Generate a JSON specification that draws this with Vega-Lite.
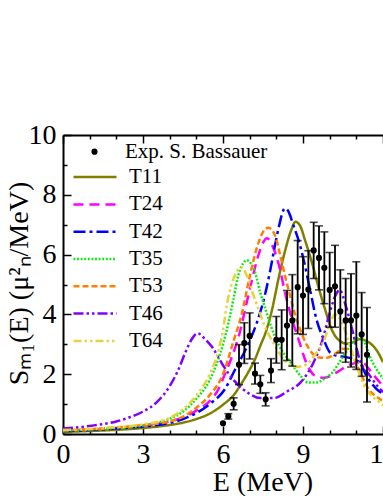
{
  "$schema": "https://vega.github.io/schema/vega-lite/v6.json",
  "width": 320,
  "height": 299,
  "autosize": {"type": "none"},
  "padding": {"left": 63, "top": 135, "right": 0, "bottom": 62},
  "background": "white",
  "config": {
    "view": {"stroke": null},
    "font": "Liberation Serif",
    "axis": {
      "grid": false,
      "domainColor": "black",
      "domainWidth": 2,
      "tickColor": "black",
      "tickWidth": 1.5,
      "labelColor": "black",
      "titleColor": "black",
      "labelFont": "Liberation Serif",
      "titleFont": "Liberation Serif",
      "labelFontSize": 28,
      "titleFontSize": 28,
      "titleFontWeight": "normal"
    },
    "legend": {"labelFont": "Liberation Serif", "labelFontSize": 21, "labelColor": "black"}
  },
  "datasets": {
    "exp": [
      {"E": 6.0, "S": 0.36, "lo": null, "hi": null},
      {"E": 6.2, "S": 0.59, "lo": 0.5, "hi": 0.68},
      {"E": 6.4, "S": 1.01, "lo": 0.81, "hi": 1.21},
      {"E": 6.6, "S": 2.32, "lo": 1.65, "hi": 2.99},
      {"E": 6.8, "S": 3.04, "lo": 2.36, "hi": 3.72},
      {"E": 7.0, "S": 3.28, "lo": 2.51, "hi": 4.05},
      {"E": 7.2, "S": 2.02, "lo": 1.67, "hi": 2.37},
      {"E": 7.4, "S": 1.66, "lo": 1.36, "hi": 1.96},
      {"E": 7.6, "S": 1.16, "lo": 0.94, "hi": 1.38},
      {"E": 7.8, "S": 2.12, "lo": 1.72, "hi": 2.52},
      {"E": 8.0, "S": 3.15, "lo": 2.37, "hi": 3.93},
      {"E": 8.2, "S": 3.15, "lo": 2.15, "hi": 4.15},
      {"E": 8.4, "S": 3.63, "lo": 2.46, "hi": 4.8},
      {"E": 8.6, "S": 3.8, "lo": 2.27, "hi": 5.33},
      {"E": 8.8, "S": 4.91, "lo": 3.35, "hi": 6.47},
      {"E": 9.0, "S": 4.63, "lo": 3.33, "hi": 5.93},
      {"E": 9.2, "S": 4.83, "lo": 3.53, "hi": 6.13},
      {"E": 9.4, "S": 6.14, "lo": 5.2, "hi": 7.08},
      {"E": 9.6, "S": 5.89, "lo": 4.82, "hi": 6.96},
      {"E": 9.8, "S": 5.56, "lo": 4.36, "hi": 6.76},
      {"E": 10.0, "S": 4.82, "lo": 3.57, "hi": 6.07},
      {"E": 10.2, "S": 4.94, "lo": 3.57, "hi": 6.31},
      {"E": 10.4, "S": 4.1, "lo": 2.71, "hi": 5.49},
      {"E": 10.6, "S": 3.8, "lo": 2.4, "hi": 5.2},
      {"E": 10.8, "S": 3.8, "lo": 2.24, "hi": 5.36},
      {"E": 11.0, "S": 3.96, "lo": 2.16, "hi": 5.76},
      {"E": 11.2, "S": 3.33, "lo": 1.93, "hi": 4.73},
      {"E": 11.4, "S": 2.65, "lo": 1.07, "hi": 4.23}
    ],
    "theory": [
      {"series": "T11", "E": 0, "S": 0.07}, {"series": "T11", "E": 1, "S": 0.1}, {"series": "T11", "E": 2, "S": 0.14}, {"series": "T11", "E": 3, "S": 0.2}, {"series": "T11", "E": 4, "S": 0.3}, {"series": "T11", "E": 4.5, "S": 0.38}, {"series": "T11", "E": 5, "S": 0.5}, {"series": "T11", "E": 5.5, "S": 0.68}, {"series": "T11", "E": 6, "S": 0.98}, {"series": "T11", "E": 6.4, "S": 1.3}, {"series": "T11", "E": 6.7, "S": 1.7}, {"series": "T11", "E": 7.0, "S": 2.15}, {"series": "T11", "E": 7.2, "S": 2.5}, {"series": "T11", "E": 7.4, "S": 2.95}, {"series": "T11", "E": 7.6, "S": 3.4}, {"series": "T11", "E": 7.85, "S": 4.2}, {"series": "T11", "E": 8.07, "S": 5.15}, {"series": "T11", "E": 8.32, "S": 6.1}, {"series": "T11", "E": 8.55, "S": 6.8}, {"series": "T11", "E": 8.72, "S": 7.1}, {"series": "T11", "E": 8.9, "S": 6.95}, {"series": "T11", "E": 9.07, "S": 6.5}, {"series": "T11", "E": 9.33, "S": 5.75}, {"series": "T11", "E": 9.57, "S": 4.95}, {"series": "T11", "E": 9.8, "S": 4.25}, {"series": "T11", "E": 10.1, "S": 3.45}, {"series": "T11", "E": 10.4, "S": 3.1}, {"series": "T11", "E": 10.65, "S": 3.02}, {"series": "T11", "E": 10.9, "S": 3.08}, {"series": "T11", "E": 11.1, "S": 3.17}, {"series": "T11", "E": 11.3, "S": 3.14}, {"series": "T11", "E": 11.6, "S": 2.97}, {"series": "T11", "E": 11.8, "S": 2.75}, {"series": "T11", "E": 12, "S": 2.4},
      {"series": "T24", "E": 0, "S": 0.12}, {"series": "T24", "E": 1, "S": 0.15}, {"series": "T24", "E": 2, "S": 0.2}, {"series": "T24", "E": 3, "S": 0.28}, {"series": "T24", "E": 4, "S": 0.42}, {"series": "T24", "E": 4.5, "S": 0.55}, {"series": "T24", "E": 5, "S": 0.78}, {"series": "T24", "E": 5.5, "S": 1.1}, {"series": "T24", "E": 5.8, "S": 1.45}, {"series": "T24", "E": 6.07, "S": 2.0}, {"series": "T24", "E": 6.3, "S": 2.5}, {"series": "T24", "E": 6.6, "S": 3.3}, {"series": "T24", "E": 6.89, "S": 4.4}, {"series": "T24", "E": 7.1, "S": 5.2}, {"series": "T24", "E": 7.3, "S": 5.9}, {"series": "T24", "E": 7.5, "S": 6.4}, {"series": "T24", "E": 7.65, "S": 6.55}, {"series": "T24", "E": 7.85, "S": 6.3}, {"series": "T24", "E": 8.14, "S": 5.5}, {"series": "T24", "E": 8.32, "S": 4.75}, {"series": "T24", "E": 8.6, "S": 3.8}, {"series": "T24", "E": 8.82, "S": 3.2}, {"series": "T24", "E": 9.14, "S": 2.35}, {"series": "T24", "E": 9.45, "S": 1.95}, {"series": "T24", "E": 9.8, "S": 1.88}, {"series": "T24", "E": 10.25, "S": 2.05}, {"series": "T24", "E": 10.7, "S": 2.3}, {"series": "T24", "E": 11.2, "S": 2.4}, {"series": "T24", "E": 11.62, "S": 2.0}, {"series": "T24", "E": 12, "S": 1.6},
      {"series": "T42", "E": 0, "S": 0.1}, {"series": "T42", "E": 1, "S": 0.13}, {"series": "T42", "E": 2, "S": 0.18}, {"series": "T42", "E": 3, "S": 0.25}, {"series": "T42", "E": 4, "S": 0.37}, {"series": "T42", "E": 4.5, "S": 0.5}, {"series": "T42", "E": 5, "S": 0.7}, {"series": "T42", "E": 5.5, "S": 1.0}, {"series": "T42", "E": 6.07, "S": 1.5}, {"series": "T42", "E": 6.45, "S": 2.15}, {"series": "T42", "E": 6.89, "S": 2.9}, {"series": "T42", "E": 7.26, "S": 3.7}, {"series": "T42", "E": 7.57, "S": 4.64}, {"series": "T42", "E": 7.76, "S": 5.42}, {"series": "T42", "E": 7.95, "S": 6.31}, {"series": "T42", "E": 8.1, "S": 6.95}, {"series": "T42", "E": 8.32, "S": 7.55}, {"series": "T42", "E": 8.45, "S": 7.45}, {"series": "T42", "E": 8.64, "S": 6.98}, {"series": "T42", "E": 8.89, "S": 6.31}, {"series": "T42", "E": 9.07, "S": 5.64}, {"series": "T42", "E": 9.26, "S": 4.85}, {"series": "T42", "E": 9.5, "S": 3.85}, {"series": "T42", "E": 9.76, "S": 3.2}, {"series": "T42", "E": 10.0, "S": 2.74}, {"series": "T42", "E": 10.25, "S": 2.62}, {"series": "T42", "E": 10.62, "S": 2.57}, {"series": "T42", "E": 11.12, "S": 2.4}, {"series": "T42", "E": 11.37, "S": 1.96}, {"series": "T42", "E": 11.75, "S": 1.51}, {"series": "T42", "E": 12, "S": 1.34},
      {"series": "T35", "E": 0, "S": 0.12}, {"series": "T35", "E": 1, "S": 0.15}, {"series": "T35", "E": 2, "S": 0.2}, {"series": "T35", "E": 3, "S": 0.28}, {"series": "T35", "E": 4, "S": 0.51}, {"series": "T35", "E": 4.5, "S": 0.75}, {"series": "T35", "E": 5, "S": 1.18}, {"series": "T35", "E": 5.5, "S": 1.8}, {"series": "T35", "E": 6.0, "S": 3.0}, {"series": "T35", "E": 6.2, "S": 3.7}, {"series": "T35", "E": 6.39, "S": 4.5}, {"series": "T35", "E": 6.57, "S": 5.3}, {"series": "T35", "E": 6.75, "S": 5.7}, {"series": "T35", "E": 6.9, "S": 5.81}, {"series": "T35", "E": 7.05, "S": 5.7}, {"series": "T35", "E": 7.2, "S": 5.42}, {"series": "T35", "E": 7.39, "S": 4.75}, {"series": "T35", "E": 7.55, "S": 4.3}, {"series": "T35", "E": 7.8, "S": 3.6}, {"series": "T35", "E": 8.07, "S": 3.02}, {"series": "T35", "E": 8.57, "S": 2.35}, {"series": "T35", "E": 8.95, "S": 1.9}, {"series": "T35", "E": 9.2, "S": 1.72}, {"series": "T35", "E": 9.5, "S": 1.72}, {"series": "T35", "E": 9.8, "S": 1.85}, {"series": "T35", "E": 10.1, "S": 2.05}, {"series": "T35", "E": 10.4, "S": 2.45}, {"series": "T35", "E": 10.7, "S": 2.85}, {"series": "T35", "E": 10.95, "S": 3.15}, {"series": "T35", "E": 11.15, "S": 3.22}, {"series": "T35", "E": 11.35, "S": 3.0}, {"series": "T35", "E": 11.5, "S": 2.6}, {"series": "T35", "E": 11.75, "S": 2.18}, {"series": "T35", "E": 12, "S": 1.85},
      {"series": "T53", "E": 0, "S": 0.12}, {"series": "T53", "E": 1, "S": 0.16}, {"series": "T53", "E": 2, "S": 0.22}, {"series": "T53", "E": 3, "S": 0.3}, {"series": "T53", "E": 4, "S": 0.42}, {"series": "T53", "E": 4.5, "S": 0.58}, {"series": "T53", "E": 5, "S": 0.88}, {"series": "T53", "E": 5.5, "S": 1.3}, {"series": "T53", "E": 6, "S": 2.0}, {"series": "T53", "E": 6.39, "S": 3.1}, {"series": "T53", "E": 6.7, "S": 4.0}, {"series": "T53", "E": 7.01, "S": 5.3}, {"series": "T53", "E": 7.26, "S": 6.2}, {"series": "T53", "E": 7.55, "S": 6.82}, {"series": "T53", "E": 7.7, "S": 6.9}, {"series": "T53", "E": 7.95, "S": 6.65}, {"series": "T53", "E": 8.14, "S": 6.0}, {"series": "T53", "E": 8.32, "S": 5.31}, {"series": "T53", "E": 8.51, "S": 4.64}, {"series": "T53", "E": 8.7, "S": 4.0}, {"series": "T53", "E": 8.89, "S": 3.5}, {"series": "T53", "E": 9.1, "S": 3.05}, {"series": "T53", "E": 9.33, "S": 2.72}, {"series": "T53", "E": 9.6, "S": 2.56}, {"series": "T53", "E": 9.9, "S": 2.55}, {"series": "T53", "E": 10.2, "S": 2.68}, {"series": "T53", "E": 10.5, "S": 2.85}, {"series": "T53", "E": 10.75, "S": 2.8}, {"series": "T53", "E": 11.0, "S": 2.35}, {"series": "T53", "E": 11.25, "S": 1.85}, {"series": "T53", "E": 11.5, "S": 1.45}, {"series": "T53", "E": 11.75, "S": 1.25}, {"series": "T53", "E": 12, "S": 1.1},
      {"series": "T46", "E": 0, "S": 0.18}, {"series": "T46", "E": 1, "S": 0.27}, {"series": "T46", "E": 2, "S": 0.42}, {"series": "T46", "E": 2.5, "S": 0.56}, {"series": "T46", "E": 3, "S": 0.75}, {"series": "T46", "E": 3.5, "S": 1.05}, {"series": "T46", "E": 4, "S": 1.6}, {"series": "T46", "E": 4.3, "S": 2.1}, {"series": "T46", "E": 4.6, "S": 2.75}, {"series": "T46", "E": 4.85, "S": 3.2}, {"series": "T46", "E": 5.05, "S": 3.37}, {"series": "T46", "E": 5.3, "S": 3.2}, {"series": "T46", "E": 5.6, "S": 2.9}, {"series": "T46", "E": 6.0, "S": 2.3}, {"series": "T46", "E": 6.4, "S": 1.8}, {"series": "T46", "E": 6.9, "S": 1.4}, {"series": "T46", "E": 7.4, "S": 1.2}, {"series": "T46", "E": 7.9, "S": 1.2}, {"series": "T46", "E": 8.4, "S": 1.42}, {"series": "T46", "E": 8.9, "S": 1.72}, {"series": "T46", "E": 9.4, "S": 2.4}, {"series": "T46", "E": 9.75, "S": 3.2}, {"series": "T46", "E": 10.0, "S": 4.05}, {"series": "T46", "E": 10.2, "S": 4.6}, {"series": "T46", "E": 10.38, "S": 4.82}, {"series": "T46", "E": 10.6, "S": 4.3}, {"series": "T46", "E": 10.87, "S": 3.4}, {"series": "T46", "E": 11.12, "S": 2.5}, {"series": "T46", "E": 11.5, "S": 1.96}, {"series": "T46", "E": 11.75, "S": 1.65}, {"series": "T46", "E": 12, "S": 1.4},
      {"series": "T64", "E": 0, "S": 0.13}, {"series": "T64", "E": 1, "S": 0.17}, {"series": "T64", "E": 2, "S": 0.23}, {"series": "T64", "E": 3, "S": 0.32}, {"series": "T64", "E": 4, "S": 0.54}, {"series": "T64", "E": 4.5, "S": 0.82}, {"series": "T64", "E": 5, "S": 1.29}, {"series": "T64", "E": 5.5, "S": 2.0}, {"series": "T64", "E": 5.8, "S": 2.7}, {"series": "T64", "E": 6.0, "S": 3.47}, {"series": "T64", "E": 6.14, "S": 4.3}, {"series": "T64", "E": 6.32, "S": 5.0}, {"series": "T64", "E": 6.5, "S": 5.4}, {"series": "T64", "E": 6.67, "S": 5.58}, {"series": "T64", "E": 6.89, "S": 5.31}, {"series": "T64", "E": 7.14, "S": 4.64}, {"series": "T64", "E": 7.32, "S": 4.2}, {"series": "T64", "E": 7.57, "S": 3.6}, {"series": "T64", "E": 7.95, "S": 2.95}, {"series": "T64", "E": 8.32, "S": 2.45}, {"series": "T64", "E": 8.7, "S": 2.24}, {"series": "T64", "E": 9.07, "S": 2.3}, {"series": "T64", "E": 9.45, "S": 2.65}, {"series": "T64", "E": 9.82, "S": 3.2}, {"series": "T64", "E": 10.01, "S": 3.7}, {"series": "T64", "E": 10.2, "S": 4.0}, {"series": "T64", "E": 10.45, "S": 3.75}, {"series": "T64", "E": 10.76, "S": 2.95}, {"series": "T64", "E": 11.1, "S": 2.05}, {"series": "T64", "E": 11.3, "S": 1.6}, {"series": "T64", "E": 11.5, "S": 1.35}, {"series": "T64", "E": 11.87, "S": 1.06}, {"series": "T64", "E": 12, "S": 0.95}
    ]
  },
  "layer": [
    {
      "data": {"name": "theory"},
      "mark": {"type": "line", "strokeWidth": 2.5, "interpolate": "monotone", "clip": true},
      "encoding": {
        "x": {
          "field": "E", "type": "quantitative",
          "scale": {"domain": [0, 12], "nice": false, "zero": false},
          "axis": {
            "orient": "bottom",
            "values": [0, 1, 2, 3, 4, 5, 6, 7, 8, 9, 10, 11, 12],
            "labelExpr": "datum.value % 3 === 0 ? datum.label : ''",
            "tickSize": {"condition": {"test": "datum.value % 3 === 0", "value": -8}, "value": -4},
            "labelPadding": 14,
            "labelFlush": false,
            "labelOverlap": false,
            "title": "E (MeV)",
            "titleX": 199.5,
            "titleY": 56,
            "titleBaseline": "alphabetic",
            "titleAlign": "center"
          }
        },
        "y": {
          "field": "S", "type": "quantitative",
          "scale": {"domain": [0, 10], "nice": false},
          "axis": {
            "orient": "left",
            "values": [0, 1, 2, 3, 4, 5, 6, 7, 8, 9, 10],
            "labelExpr": "datum.value % 2 === 0 ? datum.label : ''",
            "tickSize": {"condition": {"test": "datum.value % 2 === 0", "value": -8}, "value": -4},
            "labelPadding": 15,
            "labelFlush": false,
            "labelOverlap": false,
            "title": "Sₘ₁(E) (μ²ₙ/MeV)",
            "titleX": -44,
            "titleY": 148,
            "titleAngle": 270,
            "titleBaseline": "middle",
            "titleAlign": "center"
          }
        },
        "color": {
          "field": "series", "type": "nominal",
          "scale": {"domain": ["T11", "T24", "T42", "T35", "T53", "T46", "T64"],
                    "range": ["#808000", "#ff00ff", "#0000ff", "#00ee00", "#ff8000", "#8000ff", "#e5d43b"]},
          "legend": {"orient": "none", "legendX": 9, "legendY": 29, "title": null, "symbolType": "stroke", "symbolSize": 1849, "symbolStrokeWidth": 2.5, "labelOffset": 11, "rowPadding": 0.3, "clipHeight": 26.2, "padding": 0, "labelFontSize": 21}
        },
        "strokeDash": {
          "field": "series", "type": "nominal",
          "scale": {"domain": ["T11", "T24", "T42", "T35", "T53", "T46", "T64"],
                    "range": [[1, 0], [10, 6], [12, 4, 3, 4], [1.8, 1.8], [6, 3], [10, 3, 2.5, 3, 2.5, 3], [8, 3, 2.5, 3, 2.5, 3]]},
          "legend": {"orient": "none", "legendX": 9, "legendY": 29, "title": null, "symbolType": "stroke", "symbolSize": 1849, "symbolStrokeWidth": 2.5, "labelOffset": 11, "rowPadding": 0.3, "clipHeight": 26.2, "padding": 0, "labelFontSize": 21}
        }
      }
    },
    {
      "data": {"name": "exp"},
      "mark": {"type": "rule", "color": "black", "strokeWidth": 1.8},
      "encoding": {
        "x": {
          "field": "E", "type": "quantitative",
          "axis": {
            "orient": "top",
            "values": [0, 1, 2, 3, 4, 5, 6, 7, 8, 9, 10, 11, 12],
            "labels": false,
            "tickSize": {"condition": {"test": "datum.value % 3 === 0", "value": -8}, "value": -4},
            "title": null
          }
        },
        "y": {"field": "lo", "type": "quantitative", "axis": null},
        "y2": {"field": "hi"}
      }
    },
    {
      "data": {"name": "exp"},
      "mark": {"type": "tick", "orient": "horizontal", "size": 8, "thickness": 1.6, "color": "black"},
      "encoding": {
        "x": {"field": "E", "type": "quantitative", "axis": null},
        "y": {"field": "lo", "type": "quantitative", "axis": null}
      }
    },
    {
      "data": {"name": "exp"},
      "mark": {"type": "tick", "orient": "horizontal", "size": 8, "thickness": 1.6, "color": "black"},
      "encoding": {
        "x": {"field": "E", "type": "quantitative", "axis": null},
        "y": {"field": "hi", "type": "quantitative", "axis": null}
      }
    },
    {
      "data": {"name": "exp"},
      "mark": {"type": "point", "filled": true, "color": "black", "size": 38, "opacity": 1},
      "encoding": {
        "x": {"field": "E", "type": "quantitative", "axis": null},
        "y": {"field": "S", "type": "quantitative", "axis": null},
        "shape": {
          "datum": "Exp. S. Bassauer", "type": "nominal",
          "scale": {"range": ["circle"]},
          "legend": {"orient": "none", "legendX": 21, "legendY": 3.7, "title": null, "symbolSize": 38, "symbolFillColor": "black", "symbolStrokeColor": "black", "labelOffset": 20, "clipHeight": 26, "padding": 0, "labelFontSize": 21}
        }
      }
    }
  ],
  "resolve": {"axis": {"x": "independent", "y": "independent"}}
}
